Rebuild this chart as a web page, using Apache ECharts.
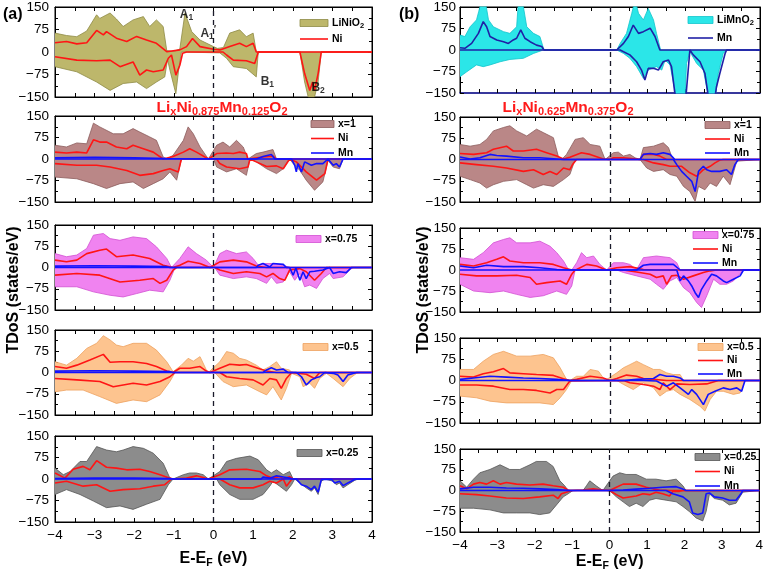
<!DOCTYPE html>
<html><head><meta charset="utf-8">
<script src="https://cdn.jsdelivr.net/npm/echarts@6.0.0/dist/echarts.min.js"></script>
<style>html,body{margin:0;padding:0;background:#fff}#c{width:766px;height:573px}</style>
</head><body><div id="c"></div>
<script>
// ---------------- DATA (energy eV, DOS states/eV) ----------------
const xTicks = [-4,-3,-2,-1,0,1,2,3,4];
const yTicks = [-150,-75,0,75,150];
const legendNames = ['LiNiO2','x=1','x=0.75','x=0.5','x=0.25','LiMnO2'];

// Left column: LixNi0.875Mn0.125O2
const L0_tdosUp = [[-4,63],[-3.71,55],[-3.45,51],[-3.2,70],[-2.95,124],[-2.87,112],[-2.61,130],[-2.45,110],[-2.28,85],[-2.03,107],[-1.77,118],[-1.61,85],[-1.44,107],[-1.27,85],[-1.18,5],[-1.0,2],[-0.85,10],[-0.72,130],[-0.55,68],[-0.34,40],[0,18],[0.1,12],[0.25,15],[0.41,63],[0.66,74],[0.83,51],[1.0,63],[1.08,0],[4,0]];
const L0_tdosDn = [[-4,-49],[-3.45,-66],[-2.95,-100],[-2.61,-128],[-2.28,-105],[-1.94,-100],[-1.69,-122],[-1.44,-100],[-1.23,-83],[-1.16,-25],[-1.1,-60],[-0.95,-139],[-0.88,-60],[-0.81,0],[0.16,-3],[0.33,-21],[0.5,-49],[0.83,-55],[1.08,-83],[1.13,0],[2.18,0],[2.3,-100],[2.39,-150],[2.55,-150],[2.64,-100],[2.72,0],[4,0]];
const L0_niUp = [[-4,31],[-3.71,35],[-3.45,27],[-3.2,31],[-2.95,72],[-2.78,57],[-2.7,68],[-2.45,46],[-2.19,35],[-1.94,52],[-1.69,40],[-1.44,29],[-1.18,1],[-0.85,7],[-0.68,18],[-0.53,45],[-0.34,18],[0,9],[0.16,7],[0.41,18],[0.66,29],[0.83,18],[1.0,29],[1.08,0],[4,0]];
const L0_niDn = [[-4,-16],[-3.45,-27],[-2.95,-29],[-2.61,-27],[-2.36,-49],[-2.03,-33],[-1.86,-77],[-1.69,-60],[-1.52,-66],[-1.27,-60],[-1.14,-21],[-1.06,-10],[-0.95,-77],[-0.85,-44],[-0.78,-4],[-0.68,0],[0.24,0],[0.33,-10],[0.5,-27],[0.83,-29],[1.04,-38],[1.13,0],[2.18,0],[2.3,-72],[2.43,-128],[2.5,-100],[2.55,-128],[2.64,-72],[2.72,0],[4,0]];

const L1_tdosUp = [[-4,48],[-3.71,42],[-3.45,56],[-3.2,53],[-3.03,125],[-2.87,112],[-2.53,88],[-2.28,88],[-2.03,106],[-1.86,94],[-1.61,77],[-1.44,65],[-1.27,7],[-1.18,0],[-1.02,13],[-0.76,65],[-0.64,112],[-0.51,88],[-0.34,42],[-0.13,0],[0.08,48],[0.24,59],[0.41,42],[0.58,65],[0.75,42],[0.87,0],[1.08,19],[1.25,24],[1.5,33],[1.59,0],[4,0]];
const L1_tdosDn = [[-4,-63],[-3.45,-69],[-3.03,-86],[-2.7,-103],[-2.36,-86],[-2.03,-80],[-1.77,-103],[-1.52,-86],[-1.27,-69],[-1.1,-45],[-0.93,-74],[-0.81,0],[0,0],[0.08,-28],[0.33,-45],[0.58,-34],[0.83,-57],[0.92,0],[1.08,-10],[1.34,-34],[1.59,-51],[1.76,-34],[1.92,0],[2.01,-16],[2.18,-40],[2.34,-74],[2.55,-109],[2.76,-80],[2.89,-5],[3.02,-28],[3.18,-34],[3.27,0],[4,0]];
const L1_niUp = [[-4,24],[-3.71,21],[-3.45,24],[-3.2,21],[-3.03,67],[-2.87,59],[-2.7,59],[-2.45,42],[-2.19,36],[-2.03,48],[-1.77,36],[-1.52,24],[-1.27,0],[-1.02,9],[-0.76,24],[-0.6,36],[-0.43,24],[-0.13,0],[0.08,19],[0.33,21],[0.5,19],[0.66,24],[0.83,19],[0.87,0],[1.25,7],[1.5,10],[1.59,0],[4,0]];
const L1_niDn = [[-4,-16],[-3.45,-22],[-2.95,-22],[-2.61,-28],[-2.19,-40],[-1.86,-57],[-1.52,-51],[-1.27,-40],[-1.1,-34],[-0.89,-45],[-0.81,0],[0.08,0],[0.16,-16],[0.33,-28],[0.66,-34],[0.87,-28],[0.92,0],[1.08,-10],[1.34,-26],[1.59,-24],[1.76,-34],[1.92,0],[2.09,-10],[2.34,-45],[2.6,-74],[2.81,-51],[2.89,0],[4,0]];
const L1_mnUp = [[-4,4],[-3.0,6],[-2.0,4],[-1.2,2],[-1.18,0],[1.08,0],[1.25,9],[1.46,16],[1.55,0],[4,0]];
const L1_mnDn = [[-4,0],[1.97,0],[2.05,-22],[2.09,-45],[2.13,-16],[2.22,-45],[2.3,-10],[2.47,-22],[2.6,-16],[2.76,-16],[2.89,0],[3.02,-22],[3.1,-16],[3.18,-28],[3.27,0],[4,0]];

const L2_tdosUp = [[-4,49],[-3.71,38],[-3.45,44],[-3.2,67],[-3.03,114],[-2.78,120],[-2.61,102],[-2.36,96],[-2.03,108],[-1.69,102],[-1.44,73],[-1.18,32],[-1.06,0],[-0.85,32],[-0.64,73],[-0.43,49],[-0.18,26],[0,0],[0.16,49],[0.33,61],[0.58,49],[0.83,55],[1.0,32],[1.13,8],[1.25,14],[1.5,14],[1.76,8],[1.92,0],[4,0]];
const L2_tdosDn = [[-4,-68],[-3.45,-68],[-3.03,-86],[-2.61,-98],[-2.28,-104],[-1.94,-92],[-1.61,-80],[-1.27,-86],[-1.1,-45],[-0.97,0],[0.03,0],[0.16,-27],[0.5,-39],[0.83,-33],[1.08,-39],[1.34,-56],[1.46,-33],[1.59,-56],[1.76,-51],[1.92,-15],[2.05,-45],[2.18,-21],[2.3,-68],[2.43,-62],[2.6,-74],[2.76,-39],[2.93,-21],[3.02,-39],[3.27,-33],[3.44,-9],[3.52,0],[4,0]];
const L2_niUp = [[-4,26],[-3.71,20],[-3.45,26],[-3.2,49],[-2.87,61],[-2.7,65],[-2.45,38],[-2.03,44],[-1.61,32],[-1.27,8],[-1.02,0],[-0.85,8],[-0.64,22],[-0.34,14],[-0.09,0],[0.16,20],[0.5,26],[0.83,20],[1.08,5],[1.34,0],[4,0]];
const L2_niDn = [[-4,-27],[-3.45,-21],[-2.87,-27],[-2.36,-51],[-1.86,-45],[-1.52,-39],[-1.35,-56],[-1.18,-45],[-1.02,-9],[-0.93,0],[0.03,0],[0.16,-9],[0.5,-21],[0.83,-15],[1.17,-21],[1.34,-33],[1.5,-21],[1.67,-39],[1.8,-45],[1.92,-9],[2.18,-4],[2.34,-15],[2.55,-45],[2.72,-21],[2.85,0],[4,0]];
const L2_mnUp = [[-4,5],[-3,6],[-2,5],[-1.18,3],[-1.1,0],[1.08,0],[1.13,8],[1.25,14],[1.42,2],[1.5,14],[1.76,11],[1.84,0],[4,0]];
const L2_mnDn = [[-4,0],[1.92,0],[2.01,-27],[2.08,-2],[2.18,-45],[2.26,-15],[2.34,-39],[2.43,-15],[2.55,-13],[2.76,-9],[2.93,0],[3.02,-21],[3.18,-15],[3.35,-18],[3.48,0],[4,0]];

const L3_tdosUp = [[-4,38],[-3.71,26],[-3.45,50],[-3.2,85],[-2.95,103],[-2.78,130],[-2.61,115],[-2.45,97],[-2.28,91],[-2.03,103],[-1.69,103],[-1.44,79],[-1.18,38],[-1.02,3],[-0.81,26],[-0.64,50],[-0.51,40],[-0.34,56],[-0.18,9],[-0.13,0],[0.16,38],[0.33,74],[0.5,68],[0.66,50],[0.83,44],[1.08,26],[1.25,9],[1.42,21],[1.59,38],[1.71,15],[1.92,9],[1.97,0],[4,0]];
const L3_tdosDn = [[-4,-68],[-3.71,-62],[-3.29,-62],[-2.87,-85],[-2.45,-109],[-2.03,-97],[-1.69,-103],[-1.35,-79],[-1.1,-32],[-0.97,0],[0.03,0],[0.24,-32],[0.5,-50],[0.83,-44],[1.17,-68],[1.34,-79],[1.5,-50],[1.71,-97],[1.84,-56],[1.97,-3],[2.18,-15],[2.26,-50],[2.43,-38],[2.55,-56],[2.68,-21],[2.85,-3],[3.02,-21],[3.27,-50],[3.44,-21],[3.61,-3],[3.7,0],[4,0]];
const L3_niUp = [[-4,21],[-3.71,15],[-3.45,26],[-3.12,44],[-2.78,64],[-2.61,36],[-2.36,38],[-2.03,38],[-1.69,32],[-1.44,21],[-1.18,5],[-1.02,0],[-0.85,15],[-0.6,15],[-0.34,21],[-0.18,5],[-0.09,0],[0.16,15],[0.41,29],[0.66,26],[0.83,28],[1.08,17],[1.34,5],[1.59,0],[4,0]];
const L3_niDn = [[-4,-21],[-3.45,-26],[-2.87,-32],[-2.53,-50],[-2.03,-38],[-1.69,-44],[-1.35,-32],[-1.1,-15],[-0.97,0],[0.16,0],[0.33,-15],[0.66,-21],[1.0,-26],[1.25,-44],[1.42,-21],[1.59,-26],[1.71,-56],[1.84,-21],[1.97,0],[2.34,-6],[2.55,-21],[2.68,0],[4,0]];
const L3_mnUp = [[-4,5],[-3,6],[-2,5],[-1.1,3],[-1.02,0],[1.25,0],[1.34,9],[1.46,17],[1.59,9],[1.76,12],[1.88,0],[4,0]];
const L3_mnDn = [[-4,0],[2.09,0],[2.22,-15],[2.34,-44],[2.47,-26],[2.6,-18],[2.68,-15],[2.81,0],[3.02,-3],[3.14,-9],[3.27,-32],[3.39,-9],[3.61,0],[4,0]];

const L4_tdosUp = [[-4,38],[-3.79,15],[-3.62,26],[-3.37,61],[-3.2,61],[-2.95,113],[-2.7,101],[-2.45,95],[-2.28,101],[-2.03,113],[-1.77,107],[-1.52,90],[-1.27,55],[-1.1,3],[-1.02,0],[-0.76,15],[-0.6,21],[-0.43,21],[-0.26,15],[-0.13,0],[0.16,26],[0.33,61],[0.58,72],[0.92,80],[1.13,67],[1.34,32],[1.46,21],[1.59,32],[1.76,15],[1.92,26],[2.01,0],[4,0]];
const L4_tdosDn = [[-4,-54],[-3.71,-37],[-3.37,-54],[-3.03,-77],[-2.7,-100],[-2.36,-94],[-2.03,-106],[-1.69,-88],[-1.35,-71],[-1.14,-20],[-1.02,0],[0.08,0],[0.16,-20],[0.41,-54],[0.66,-71],[1.0,-71],[1.25,-54],[1.42,-25],[1.5,-8],[1.67,-25],[1.84,-43],[1.97,-20],[2.05,0],[2.18,-14],[2.34,-31],[2.47,-43],[2.55,-31],[2.64,-54],[2.72,-8],[2.81,0],[3.02,-8],[3.1,-20],[3.18,-14],[3.27,-31],[3.39,-20],[3.56,-5],[3.65,0],[4,0]];
const L4_niUp = [[-4,21],[-3.75,3],[-3.54,34],[-3.29,44],[-3.12,32],[-2.95,64],[-2.7,41],[-2.45,38],[-2.19,32],[-1.86,34],[-1.61,26],[-1.35,15],[-1.1,3],[-1.02,0],[-0.68,3],[-0.43,11],[-0.26,5],[-0.13,0],[0.16,15],[0.41,32],[0.83,34],[1.17,26],[1.34,11],[1.5,3],[1.67,9],[1.76,0],[1.92,8],[2.01,0],[4,0]];
const L4_niDn = [[-4,-14],[-3.71,-8],[-3.29,-25],[-2.95,-20],[-2.61,-43],[-2.28,-37],[-1.86,-34],[-1.52,-25],[-1.23,-20],[-1.06,0],[0.16,0],[0.41,-20],[0.66,-31],[1.0,-31],[1.25,-20],[1.42,-8],[1.59,-14],[1.76,0],[1.84,-25],[1.97,-2],[2.05,0],[4,0]];
const L4_mnUp = [[-4,2],[-3,3],[-2,3],[-1.1,2],[-1.02,0],[1.2,0],[1.25,7],[1.42,3],[1.59,11],[1.76,7],[1.92,3],[2.0,0],[4,0]];
const L4_mnDn = [[-4,0],[2.09,0],[2.22,-20],[2.34,-25],[2.47,-37],[2.55,-25],[2.64,-46],[2.72,-2],[2.98,-2],[3.06,-14],[3.18,-8],[3.27,-23],[3.39,-14],[3.56,-2],[3.65,0],[4,0]];

// Right column: LixNi0.625Mn0.375O2
const R0_tdosUp = [[-4,52],[-3.87,47],[-3.73,81],[-3.56,105],[-3.5,135],[-3.42,175],[-3.33,175],[-3.24,105],[-3.11,81],[-2.84,64],[-2.67,58],[-2.49,81],[-2.44,175],[-2.34,175],[-2.22,81],[-2.04,58],[-1.87,47],[-1.76,0],[0.18,0],[0.27,23],[0.44,58],[0.58,128],[0.67,175],[0.76,128],[0.89,105],[1.02,145],[1.16,105],[1.24,58],[1.35,0],[4,0]];
const R0_tdosDn = [[-4,-93],[-3.82,-76],[-3.56,-52],[-3.38,-58],[-3.2,-52],[-2.93,-41],[-2.67,-33],[-2.31,-29],[-2.04,-12],[-1.78,0],[0.18,0],[0.36,-12],[0.53,-29],[0.71,-58],[0.89,-99],[1.02,-70],[1.24,-58],[1.38,-70],[1.47,-35],[1.6,-52],[1.73,-140],[1.78,-175],[2.0,-175],[2.04,-47],[2.13,-6],[2.18,-12],[2.31,-47],[2.49,-70],[2.62,-160],[2.8,-175],[2.89,-81],[3.02,-12],[3.11,0],[4,0]];
const R0_mnUp = [[-4,8],[-3.87,6],[-3.69,23],[-3.51,58],[-3.38,99],[-3.29,81],[-3.2,47],[-3.02,35],[-2.84,29],[-2.71,23],[-2.58,35],[-2.49,41],[-2.38,70],[-2.27,41],[-2.13,29],[-1.96,17],[-1.82,12],[-1.76,0],[0.18,0],[0.36,23],[0.49,47],[0.62,87],[0.76,58],[0.89,64],[1.07,76],[1.2,47],[1.33,0],[4,0]];
const R0_mnDn = [[-4,0],[0.27,0],[0.36,-6],[0.53,-17],[0.71,-41],[0.84,-70],[0.93,-105],[1.02,-64],[1.16,-64],[1.29,-70],[1.42,-41],[1.56,-35],[1.64,-58],[1.73,-151],[1.82,-200],[2.0,-200],[2.07,-93],[2.13,0],[2.22,-17],[2.4,-41],[2.53,-81],[2.62,-160],[2.76,-200],[2.84,-128],[2.93,-81],[3.07,-12],[3.11,0],[4,0]];

const R1_tdosUp = [[-4,53],[-3.73,47],[-3.47,53],[-3.29,71],[-3.11,101],[-2.84,113],[-2.67,119],[-2.49,101],[-2.22,83],[-1.96,107],[-1.78,95],[-1.51,77],[-1.38,12],[-1.29,0],[-1.16,18],[-0.93,71],[-0.71,77],[-0.53,53],[-0.27,47],[-0.13,0],[0.09,24],[0.22,26],[0.36,12],[0.53,18],[0.67,6],[0.8,0],[0.89,42],[1.16,47],[1.42,59],[1.56,42],[1.64,12],[1.73,0],[4,0]];
const R1_tdosDn = [[-4,-59],[-3.73,-71],[-3.47,-83],[-3.29,-101],[-3.11,-89],[-2.84,-77],[-2.49,-71],[-2.22,-89],[-2.04,-101],[-1.78,-89],[-1.51,-95],[-1.24,-71],[-1.07,-53],[-0.93,0],[0.8,0],[0.84,-6],[0.98,-30],[1.16,-42],[1.42,-36],[1.6,-53],[1.78,-59],[1.96,-95],[2.13,-113],[2.27,-148],[2.36,-95],[2.53,-107],[2.67,-83],[2.84,-95],[3.02,-59],[3.2,-89],[3.38,-6],[3.42,0],[4,0]];
const R1_niUp = [[-4,21],[-3.64,18],[-3.29,24],[-3.11,36],[-2.76,47],[-2.58,30],[-2.31,30],[-1.96,36],[-1.69,24],[-1.42,12],[-1.24,2],[-1.07,8],[-0.76,24],[-0.53,18],[-0.18,2],[0,0],[0.09,6],[0.36,6],[0.8,0],[0.89,18],[1.16,18],[1.33,12],[1.51,0],[4,0]];
const R1_niDn = [[-4,-12],[-3.56,-18],[-3.11,-24],[-2.76,-30],[-2.31,-42],[-2.04,-36],[-1.78,-53],[-1.6,-42],[-1.42,-53],[-1.24,-30],[-1.07,-36],[-1.0,-18],[-0.89,0],[0.89,0],[1.16,-12],[1.42,-18],[1.6,-24],[1.91,-24],[2.13,-47],[2.31,-59],[2.49,-36],[2.67,-24],[2.8,-12],[2.93,-2],[3.02,0],[4,0]];
const R1_mnUp = [[-4,9],[-3.73,2],[-3.47,6],[-3.2,18],[-3.02,14],[-2.76,12],[-2.31,6],[-1.87,6],[-1.42,2],[-1.24,0],[0.8,0],[0.89,18],[1.07,21],[1.24,18],[1.42,24],[1.6,18],[1.73,0],[4,0]];
const R1_mnDn = [[-4,0],[1.69,0],[1.78,-18],[1.91,-42],[2.04,-59],[2.18,-77],[2.27,-113],[2.36,-42],[2.49,-24],[2.58,-36],[2.71,-42],[2.93,-42],[3.11,-36],[3.24,-53],[3.33,-18],[3.42,0],[4,0]];

const R2_tdosUp = [[-4,44],[-3.64,38],[-3.38,62],[-3.11,97],[-2.84,109],[-2.67,115],[-2.49,97],[-2.13,97],[-1.87,103],[-1.6,85],[-1.42,62],[-1.24,32],[-1.11,2],[-1.02,0],[-0.89,26],[-0.76,62],[-0.62,44],[-0.44,50],[-0.27,20],[-0.09,0],[0.09,26],[0.36,26],[0.53,20],[0.71,2],[0.89,44],[1.24,50],[1.6,44],[1.78,26],[1.87,0],[4,0]];
const R2_tdosDn = [[-4,-51],[-3.64,-75],[-3.2,-81],[-2.84,-75],[-2.49,-87],[-2.13,-98],[-1.78,-92],[-1.42,-75],[-1.16,-87],[-1.02,-57],[-0.93,0],[0.18,0],[0.36,-9],[0.71,-21],[1.07,-33],[1.24,-51],[1.42,-69],[1.6,-39],[1.78,-27],[1.96,-63],[2.13,-81],[2.31,-116],[2.44,-134],[2.58,-92],[2.76,-33],[2.93,-51],[3.11,-51],[3.29,-39],[3.56,0],[4,0]];
const R2_niUp = [[-4,20],[-3.64,14],[-3.29,26],[-3.02,38],[-2.84,47],[-2.67,32],[-2.31,26],[-1.87,26],[-1.51,20],[-1.24,8],[-1.02,0],[-0.89,2],[-0.62,20],[-0.36,14],[-0.09,0],[0.18,8],[0.53,12],[0.89,2],[1.24,0],[4,0]];
const R2_niDn = [[-4,-15],[-3.56,-21],[-3.02,-21],[-2.49,-19],[-2.13,-27],[-1.96,-51],[-1.69,-45],[-1.33,-39],[-1.16,-51],[-1.02,-15],[-0.93,0],[0.36,0],[0.71,-7],[1.07,-15],[1.24,-27],[1.42,-21],[1.51,-51],[1.64,-21],[1.78,-19],[1.96,-33],[2.22,-21],[2.49,-9],[2.67,-3],[2.84,0],[4,0]];
const R2_mnUp = [[-4,14],[-3.64,8],[-3.29,17],[-2.84,12],[-2.31,12],[-1.87,8],[-1.42,2],[-1.07,0],[0.71,0],[0.89,17],[1.07,20],[1.42,20],[1.69,20],[1.87,0],[4,0]];
const R2_mnDn = [[-4,0],[1.78,0],[1.87,-39],[1.96,-21],[2.09,-39],[2.18,-57],[2.27,-81],[2.36,-98],[2.44,-69],[2.58,-39],[2.71,-15],[2.84,-21],[3.02,-39],[3.11,-45],[3.29,-33],[3.47,-21],[3.56,0],[4,0]];

const R3_tdosUp = [[-4,39],[-3.64,39],[-3.38,68],[-3.11,92],[-2.84,103],[-2.49,86],[-2.13,86],[-1.78,92],[-1.51,80],[-1.33,45],[-1.16,4],[-1.07,0],[-0.89,15],[-0.71,15],[-0.53,39],[-0.31,33],[-0.13,0],[0.18,27],[0.36,45],[0.53,56],[0.71,68],[0.89,56],[1.16,39],[1.33,39],[1.51,27],[1.69,21],[1.87,21],[1.96,0],[4,0]];
const R3_tdosDn = [[-4,-55],[-3.56,-61],[-3.2,-73],[-2.76,-79],[-2.31,-79],[-1.87,-79],[-1.51,-85],[-1.33,-61],[-1.16,-32],[-1.02,0],[0.18,0],[0.36,-14],[0.62,-32],[0.89,-8],[1.16,-26],[1.33,-55],[1.51,-38],[1.69,-32],[1.87,-49],[2.13,-67],[2.4,-91],[2.53,-108],[2.67,-67],[2.84,-38],[3.02,-38],[3.29,-49],[3.47,-44],[3.6,0],[4,0]];
const R3_niUp = [[-4,15],[-3.64,12],[-3.38,24],[-3.11,31],[-2.84,42],[-2.67,27],[-2.31,24],[-1.96,21],[-1.51,18],[-1.24,6],[-1.07,0],[-0.89,4],[-0.53,15],[-0.18,9],[0,0],[0.18,7],[0.44,19],[0.71,15],[0.89,7],[1.16,4],[1.51,0],[4,0]];
const R3_niDn = [[-4,-16],[-3.56,-16],[-3.11,-20],[-2.67,-32],[-2.31,-32],[-1.96,-35],[-1.6,-44],[-1.42,-32],[-1.24,-32],[-1.07,-2],[-1.02,0],[0.36,0],[0.53,-8],[0.89,-14],[1.16,-20],[1.33,-32],[1.42,-8],[1.6,-32],[1.78,-12],[2.13,-14],[2.58,-12],[2.89,0],[4,0]];
const R3_mnUp = [[-4,4],[-3.64,9],[-3.2,15],[-2.76,12],[-2.31,9],[-1.87,7],[-1.42,4],[-1.07,0],[0.36,0],[0.71,4],[1.16,7],[1.33,21],[1.51,15],[1.69,15],[1.87,9],[1.96,0],[4,0]];
const R3_mnDn = [[-4,0],[0.89,0],[1.24,-2],[1.51,-20],[1.69,-8],[1.87,-26],[2.09,-49],[2.18,-32],[2.31,-49],[2.49,-85],[2.62,-49],[2.8,-38],[3.02,-26],[3.2,-32],[3.38,-26],[3.51,-38],[3.6,0],[4,0]];

const R4_tdosUp = [[-4,35],[-3.82,12],[-3.64,41],[-3.47,64],[-3.2,76],[-2.93,93],[-2.67,76],[-2.4,76],[-2.13,93],[-1.96,105],[-1.69,105],[-1.51,87],[-1.33,35],[-1.2,17],[-1.11,0],[-0.71,0],[-0.62,17],[-0.53,35],[-0.36,17],[-0.18,0],[0.09,52],[0.27,64],[0.44,58],[0.71,58],[0.98,41],[1.24,41],[1.51,35],[1.78,41],[1.96,17],[2.04,0],[4,0]];
const R4_tdosDn = [[-4,-64],[-3.64,-64],[-3.2,-70],[-2.84,-81],[-2.49,-81],[-2.13,-81],[-1.87,-87],[-1.6,-81],[-1.42,-52],[-1.24,-23],[-1.11,-12],[-0.98,0],[0,0],[0.18,-23],[0.36,-41],[0.53,-58],[0.71,-46],[0.89,-58],[1.07,-35],[1.24,-29],[1.51,-35],[1.78,-41],[1.96,-58],[2.13,-76],[2.31,-99],[2.49,-110],[2.58,-76],[2.67,-12],[2.8,-29],[3.02,-35],[3.2,-52],[3.38,-46],[3.56,-6],[3.6,0],[4,0]];
const R4_niUp = [[-4,17],[-3.82,6],[-3.64,23],[-3.47,29],[-3.29,23],[-3.11,35],[-2.93,23],[-2.76,29],[-2.49,23],[-2.13,20],[-1.78,23],[-1.51,17],[-1.24,12],[-1.11,2],[-1.02,0],[-0.71,2],[-0.44,6],[-0.18,2],[0,0],[0.18,12],[0.36,23],[0.71,23],[0.98,12],[1.16,6],[1.33,2],[1.6,0],[4,0]];
const R4_niDn = [[-4,-12],[-3.56,-15],[-3.2,-20],[-2.76,-27],[-2.31,-29],[-1.87,-23],[-1.51,-17],[-1.38,-29],[-1.29,-12],[-1.16,-6],[-1.02,0],[0,0],[0.18,-15],[0.36,-27],[0.71,-20],[0.89,-12],[1.07,-15],[1.24,-6],[1.42,-12],[1.6,-20],[1.69,-3],[1.87,-3],[1.96,0],[4,0]];
const R4_mnUp = [[-4,6],[-3.64,12],[-3.2,12],[-2.76,9],[-2.31,8],[-1.87,6],[-1.42,3],[-1.07,0],[0,0],[0.36,2],[0.71,5],[1.07,8],[1.42,12],[1.78,14],[1.96,5],[2.04,0],[4,0]];
const R4_mnDn = [[-4,0],[1.51,0],[1.69,-12],[1.96,-23],[2.13,-41],[2.22,-81],[2.36,-87],[2.49,-81],[2.58,-12],[2.67,-9],[2.8,-23],[3.02,-27],[3.2,-35],[3.38,-35],[3.51,-12],[3.56,0],[4,0]];

// peak annotations (data coordinates)
const annLabels = [['A','1',''],['A','1','\u2032'],['B','1',''],['B','2','']];
const annPos = [[-0.68,126],[-0.13,62],[1.36,-98],[2.64,-118]];

// ---------------- STYLE / LAYOUT ----------------
const RED = '#FF1515', BLUE = '#1212FF', NAVY = '#2020A6';
const FONT = 'Arial, "Liberation Sans", Helvetica, sans-serif';
const fillStyle = {
  'LiNiO2': ['#BDB76B', '#8E8A45'],
  'x=1':    ['#BA8787', '#8C5C5C'],
  'x=0.75': ['#F083F0', '#D24FD2'],
  'x=0.5':  ['#FDC48F', '#EDA15E'],
  'x=0.25': ['#8C8C8C', '#555555'],
  'LiMnO2': ['#2BE6E8', '#12C4CC']
};
const panels = [
  {g:[55,7,317,90],   nm:'LiNiO2', up:L0_tdosUp, dn:L0_tdosDn, ni:[L0_niUp,L0_niDn], mn:null, bottom:false, lg:{x:300,y:23,w:28,gap:16,items:['fill','ni']}},
  {g:[55,116,317,86], nm:'x=1',    up:L1_tdosUp, dn:L1_tdosDn, ni:[L1_niUp,L1_niDn], mn:[L1_mnUp,L1_mnDn], bottom:false, lg:{x:311,y:124,w:23,gap:14.5,items:['fill','ni','mn']}},
  {g:[55,225,317,85], nm:'x=0.75', up:L2_tdosUp, dn:L2_tdosDn, ni:[L2_niUp,L2_niDn], mn:[L2_mnUp,L2_mnDn], bottom:false, lg:{x:296,y:239,w:25,gap:14,items:['fill']}},
  {g:[55,330,317,85], nm:'x=0.5',  up:L3_tdosUp, dn:L3_tdosDn, ni:[L3_niUp,L3_niDn], mn:[L3_mnUp,L3_mnDn], bottom:false, lg:{x:303,y:347,w:25,gap:14,items:['fill']}},
  {g:[55,436,317,86], nm:'x=0.25', up:L4_tdosUp, dn:L4_tdosDn, ni:[L4_niUp,L4_niDn], mn:[L4_mnUp,L4_mnDn], bottom:true,  lg:{x:297,y:453,w:25,gap:14,items:['fill']}},
  {g:[460,7,300,86],  nm:'LiMnO2', up:R0_tdosUp, dn:R0_tdosDn, ni:null, mn:[R0_mnUp,R0_mnDn], mnColor:NAVY, baseColor:NAVY, bottom:false, lg:{x:688,y:20,w:25,gap:18,items:['fill','mn']}},
  {g:[460,117,300,85],nm:'x=1',    up:R1_tdosUp, dn:R1_tdosDn, ni:[R1_niUp,R1_niDn], mn:[R1_mnUp,R1_mnDn], bottom:false, lg:{x:705,y:125,w:25,gap:14,items:['fill','ni','mn']}},
  {g:[460,228,300,84],nm:'x=0.75', up:R2_tdosUp, dn:R2_tdosDn, ni:[R2_niUp,R2_niDn], mn:[R2_mnUp,R2_mnDn], bottom:false, lg:{x:693,y:235,w:25,gap:14,items:['fill','ni','mn']}},
  {g:[460,338,300,85],nm:'x=0.5',  up:R3_tdosUp, dn:R3_tdosDn, ni:[R3_niUp,R3_niDn], mn:[R3_mnUp,R3_mnDn], bottom:false, lg:{x:698,y:347,w:25,gap:13.5,items:['fill','ni','mn']}},
  {g:[460,449,300,86],nm:'x=0.25', up:R4_tdosUp, dn:R4_tdosDn, ni:[R4_niUp,R4_niDn], mn:[R4_mnUp,R4_mnDn], bottom:true,  lg:{x:695,y:457,w:25,gap:14.5,items:['fill','ni','mn']}}
];

const minus = v => String(v).replace('-', '\u2212');
const grids = [], xAxes = [], yAxes = [], xTop = [], yRight = [], series = [], graphics = [];
const richLegend = {
  a:{fontSize:10.5, fontWeight:'bold', fontFamily:FONT, fill:'#000'},
  s:{fontSize:7.5, fontWeight:'bold', fontFamily:FONT, fill:'#000', padding:[6,0,0,0]}
};
function legendText(nm){
  if (nm === 'LiNiO2') return '{a|LiNiO}{s|2}';
  if (nm === 'LiMnO2') return '{a|LiMnO}{s|2}';
  return '{a|' + nm + '}';
}
const tickStyle = {show:true, inside:true, length:4, lineStyle:{color:'#000'}};
const minorX = {show:true, splitNumber:2, length:4, lineStyle:{color:'#000'}};
const minorY = {show:true, splitNumber:2, length:3, lineStyle:{color:'#000'}};

panels.forEach((p, i) => {
  const col = p.g[0] < 300 ? 0 : 1;
  grids.push({left:p.g[0], top:p.g[1], width:p.g[2], height:p.g[3], show:true, borderColor:'#000', borderWidth:1, backgroundColor:'transparent', containLabel:false});
  xAxes.push({
    type:'value', gridIndex:i, min:-4, max:4, interval:1, position:'bottom',
    axisLine:{show:true, onZero:false, lineStyle:{color:p.baseColor || '#000', width: p.baseColor ? 1.6 : 1}},
    axisTick:tickStyle, minorTick:minorX, splitLine:{show:false},
    axisLabel:{show:p.bottom, color:'#000', fontSize:13.5, fontFamily:FONT, margin:6, formatter:minus},
    name: p.bottom ? '{a|E-E}{s|F}{a| (eV)}' : '',
    nameLocation:'middle', nameGap: col === 0 ? 27 : 20,
    nameTextStyle:{rich:{a:{fontSize:16, fontWeight:'bold', fontFamily:FONT, color:'#000'}, s:{fontSize:10.5, fontWeight:'bold', fontFamily:FONT, color:'#000', padding:[9,0,0,0]}}}
  });
  xTop.push({type:'value', gridIndex:i, min:-4, max:4, interval:1, position:'top',
    axisLine:{show:true, onZero:false, lineStyle:{color:'#000', width:1}},
    axisTick:tickStyle, minorTick:minorX, splitLine:{show:false}, axisLabel:{show:false}});
  yAxes.push({
    type:'value', gridIndex:i, min:-150, max:150, interval:75, position:'left',
    axisLine:{show:true, onZero:false, lineStyle:{color:'#000', width:1}},
    axisTick:tickStyle, minorTick:minorY, splitLine:{show:false},
    axisLabel:{color:'#000', fontSize:13.5, fontFamily:FONT, margin: col === 0 ? 6 : 4, formatter:minus}
  });
  yRight.push({type:'value', gridIndex:i, min:-150, max:150, interval:75, position:'right',
    axisLine:{show:true, onZero:false, lineStyle:{color:'#000', width:1}},
    axisTick:tickStyle, minorTick:minorY, splitLine:{show:false}, axisLabel:{show:false}});
  const fs = fillStyle[p.nm];
  const base = {type:'line', xAxisIndex:i, yAxisIndex:i, symbol:'none', silent:true, animation:false, clip:true};
  series.push(Object.assign({}, base, {name:p.nm, data:p.up, z:1, lineStyle:{color:fs[1], width:0.8}, areaStyle:{color:fs[0], opacity:1, origin:0},
    markLine:{silent:true, symbol:['none','none'], label:{show:false}, animation:false, z:6,
      lineStyle:{color:'#1a1a2a', type:[5,4], width:1.3}, data:[{xAxis:0}]}}));
  series.push(Object.assign({}, base, {name:p.nm, data:p.dn, z:1, lineStyle:{color:fs[1], width:0.8}, areaStyle:{color:fs[0], opacity:1, origin:0}}));
  if (p.ni) {
    series.push(Object.assign({}, base, {name:'Ni', data:p.ni[0], z:3, lineStyle:{color:RED, width:1.6}}));
    series.push(Object.assign({}, base, {name:'Ni', data:p.ni[1], z:3, lineStyle:{color:RED, width:1.6}}));
  }
  if (p.mn) {
    const c = p.mnColor || BLUE;
    series.push(Object.assign({}, base, {name:'Mn', data:p.mn[0], z:4, lineStyle:{color:c, width:1.6}}));
    series.push(Object.assign({}, base, {name:'Mn', data:p.mn[1], z:4, lineStyle:{color:c, width:1.6}}));
  }
  // legend (inside, top-right)
  p.lg.items.forEach((it, k) => {
    const y = p.lg.y + k * p.lg.gap;
    if (it === 'fill') {
      graphics.push({type:'rect', z:100, shape:{x:p.lg.x, y:y-3.5, width:p.lg.w, height:7}, style:{fill:fs[0], stroke:fs[1], lineWidth:0.8}});
    } else {
      const c = it === 'ni' ? RED : (p.mnColor || BLUE);
      graphics.push({type:'line', z:100, shape:{x1:p.lg.x, y1:y, x2:p.lg.x+p.lg.w, y2:y}, style:{stroke:c, lineWidth:1.6}});
    }
    const txt = it === 'fill' ? legendText(p.nm) : (it === 'ni' ? '{a|Ni}' : '{a|Mn}');
    graphics.push({type:'text', z:100, x:p.lg.x + p.lg.w + 4, y:y, style:{text:txt, rich:richLegend, align:'left', verticalAlign:'middle'}});
  });
});

// peak annotations in first left panel
series.push({type:'scatter', xAxisIndex:0, yAxisIndex:0, silent:true, animation:false, symbolSize:0, z:8,
  data: annPos.map((p, k) => ({value:p, lab:annLabels[k]})),
  label:{show:true, position:'inside', formatter: d => '{a|' + d.data.lab[0] + '}{s|' + d.data.lab[1] + '}' + (d.data.lab[2] ? '{p|' + d.data.lab[2] + '}' : ''),
    rich:{a:{fontSize:12, fontWeight:'bold', fontFamily:FONT, color:'#000'}, s:{fontSize:8.5, fontWeight:'bold', fontFamily:FONT, color:'#000', padding:[7,0,0,0]}, p:{fontSize:10, fontWeight:'bold', color:'#000', padding:[0,0,6,0]}}}
});

// titles and labels
const titleRich = {
  a:{fontSize:15.5, fontWeight:'bold', fontFamily:FONT, fill:'#FF1a1a'},
  s:{fontSize:11, fontWeight:'bold', fontFamily:FONT, fill:'#FF1a1a', padding:[8,0,0,0]}
};
graphics.push({type:'text', x:222, y:108, style:{text:'{a|Li}{s|x}{a|Ni}{s|0.875}{a|Mn}{s|0.125}{a|O}{s|2}', rich:titleRich, align:'center', verticalAlign:'middle'}});
graphics.push({type:'text', x:568, y:108, style:{text:'{a|Li}{s|x}{a|Ni}{s|0.625}{a|Mn}{s|0.375}{a|O}{s|2}', rich:titleRich, align:'center', verticalAlign:'middle'}});
graphics.push({type:'text', x:3, y:15, style:{text:'(a)', fontSize:16, fontWeight:'bold', fontFamily:FONT, fill:'#000', align:'left', verticalAlign:'middle'}});
graphics.push({type:'text', x:399, y:15, style:{text:'(b)', fontSize:16, fontWeight:'bold', fontFamily:FONT, fill:'#000', align:'left', verticalAlign:'middle'}});
graphics.push({type:'text', x:14, y:290, rotation:Math.PI/2, style:{text:'TDoS (states/eV)', fontSize:16, fontWeight:'bold', fontFamily:FONT, fill:'#000', align:'center', verticalAlign:'middle'}});
graphics.push({type:'text', x:424, y:290, rotation:Math.PI/2, style:{text:'TDoS (states/eV)', fontSize:16, fontWeight:'bold', fontFamily:FONT, fill:'#000', align:'center', verticalAlign:'middle'}});

const chart = echarts.init(document.getElementById('c'), null, {renderer:'canvas'});
chart.setOption({backgroundColor:'#fff', animation:false, grid:grids, xAxis:xAxes.concat(xTop), yAxis:yAxes.concat(yRight), series:series, graphic:graphics});
</script></body></html>
